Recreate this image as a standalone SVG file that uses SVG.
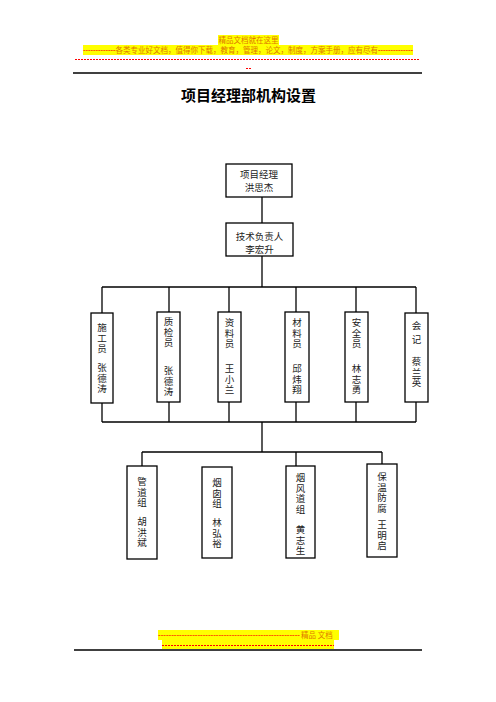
<svg xmlns="http://www.w3.org/2000/svg" width="496" height="702" viewBox="0 0 496 702">
<style>
.hd{font-family:"Liberation Serif","Noto Sans CJK SC",serif;font-size:7.5px;fill:#E07800}
.red{fill:#FF0000}
.box{fill:#fff;stroke:#000;stroke-width:1.3}
.t{font-family:"Noto Sans CJK SC",sans-serif;font-size:9.5px;fill:#222;text-anchor:middle}
.vt{font-family:"Noto Sans CJK SC",sans-serif;font-size:9.5px;fill:#222;writing-mode:vertical-rl;text-orientation:upright;letter-spacing:1px}
.ln{stroke:#000;stroke-width:1.3;fill:none}
.title{font-family:"Noto Sans CJK SC",sans-serif;font-size:15px;font-weight:bold;fill:#000;text-anchor:middle}
</style>
<rect width="496" height="702" fill="#fff"/>
<g id="header">
<rect x="218" y="35" width="61" height="10" fill="#FFFF00"/>
<text class="hd" x="248.5" y="43" text-anchor="middle">精品文档就在这里</text>
<rect x="83" y="45" width="330" height="10" fill="#FFFF00"/>
<text class="hd" x="83" y="53" textLength="330" lengthAdjust="spacingAndGlyphs"><tspan class="red">-------------</tspan>各类专业好文档，值得你下载，教育，管理，论文，制度，方案手册，应有尽有<tspan class="red">--------------</tspan></text>
<line x1="75" y1="59.5" x2="420" y2="59.5" stroke="#FF0000" stroke-width="1" stroke-dasharray="2,1"/>
<line x1="246" y1="68.5" x2="251" y2="68.5" stroke="#FF0000" stroke-width="1" stroke-dasharray="2,1"/>
<line x1="73" y1="73" x2="422" y2="73" stroke="#000" stroke-width="1.3"/>
</g>
<text class="title" x="248.5" y="101">项目经理部机构设置</text>
<g id="connectors">
<line class="ln" x1="262" y1="197" x2="262" y2="223"/>
<line class="ln" x1="262" y1="256" x2="262" y2="287"/>
<line class="ln" x1="102" y1="287" x2="416" y2="287"/>
<line class="ln" x1="102" y1="287" x2="102" y2="313"/>
<line class="ln" x1="169" y1="287" x2="169" y2="312"/>
<line class="ln" x1="229" y1="287" x2="229" y2="312"/>
<line class="ln" x1="296" y1="287" x2="296" y2="312"/>
<line class="ln" x1="356" y1="287" x2="356" y2="312"/>
<line class="ln" x1="416" y1="287" x2="416" y2="313"/>
<line class="ln" x1="102" y1="403" x2="102" y2="422"/>
<line class="ln" x1="169" y1="402" x2="169" y2="422"/>
<line class="ln" x1="229" y1="402" x2="229" y2="422"/>
<line class="ln" x1="296" y1="402" x2="296" y2="422"/>
<line class="ln" x1="356" y1="402" x2="356" y2="422"/>
<line class="ln" x1="416" y1="402" x2="416" y2="422"/>
<line class="ln" x1="102" y1="422" x2="416" y2="422"/>
<line class="ln" x1="262" y1="422" x2="262" y2="452"/>
<line class="ln" x1="142" y1="452" x2="382" y2="452"/>
<line class="ln" x1="142" y1="452" x2="142" y2="466"/>
<line class="ln" x1="296" y1="452" x2="296" y2="466"/>
<line class="ln" x1="382" y1="452" x2="382" y2="464"/>
</g>
<g id="n-pm">
<rect class="box" x="226" y="164" width="66" height="33"/>
<text class="t" x="259" y="178">项目经理</text>
<text class="t" x="259" y="191">洪思杰</text>
</g>
<g id="n-tech">
<rect class="box" x="226" y="223" width="67" height="33"/>
<text class="t" x="259.5" y="240">技术负责人</text>
<text class="t" x="259.5" y="253">李宏升</text>
</g>
<g id="n-sg">
<rect class="box" x="91" y="313" width="22" height="90"/>
<text class="vt" x="102" y="323">施工员</text>
<text class="vt" x="102" y="363">张德涛</text>
</g>
<g id="n-zj">
<rect class="box" x="157" y="312" width="23" height="90"/>
<text class="vt" x="168.5" y="317">质检员</text>
<text class="vt" x="168.5" y="366">张德涛</text>
</g>
<g id="n-zl">
<rect class="box" x="218" y="312" width="23" height="90"/>
<text class="vt" x="229.5" y="318">资料员</text>
<text class="vt" x="229.5" y="364">王小兰</text>
</g>
<g id="n-cl">
<rect class="box" x="285" y="312" width="24" height="90"/>
<text class="vt" x="297" y="318">材料员</text>
<text class="vt" x="297" y="364">邱炜翔</text>
</g>
<g id="n-aq">
<rect class="box" x="345" y="312" width="23" height="90"/>
<text class="vt" x="356.5" y="318">安全员</text>
<text class="vt" x="356.5" y="364">林志勇</text>
</g>
<g id="n-kj">
<rect class="box" x="405" y="313" width="23" height="89"/>
<text class="vt" x="416.5" y="321" style="letter-spacing:4.5px">会记</text>
<text class="vt" x="416.5" y="357">蔡兰英</text>
</g>
<g id="n-gd">
<rect class="box" x="127" y="466" width="30" height="93"/>
<text class="vt" x="142" y="477">管道组</text>
<text class="vt" x="142" y="517">胡洪斌</text>
</g>
<g id="n-yc">
<rect class="box" x="202" y="467" width="30" height="91"/>
<text class="vt" x="217" y="478">烟囱组</text>
<text class="vt" x="217" y="518">林弘裕</text>
</g>
<g id="n-yfd">
<rect class="box" x="286" y="466" width="29" height="92"/>
<text class="vt" x="300.5" y="473">烟风道组</text>
<text class="vt" x="300.5" y="525">黄志生</text>
</g>
<g id="n-bw">
<rect class="box" x="367" y="464" width="30" height="93"/>
<text class="vt" x="382" y="472">保温防腐</text>
<text class="vt" x="382" y="520">王明启</text>
</g>
<g id="footer">
<rect x="158" y="630" width="181" height="10" fill="#FFFF00"/>
<text class="hd" x="158" y="638"><tspan class="red" textLength="142" lengthAdjust="spacingAndGlyphs">------------------------------------------------------</tspan><tspan x="301">精品  文档</tspan></text>
<rect x="162" y="640" width="172" height="9" fill="#FFFF00"/>
<line x1="162" y1="645.5" x2="334" y2="645.5" stroke="#FF0000" stroke-width="1" stroke-dasharray="2,1"/>
<line x1="74" y1="650" x2="422" y2="650" stroke="#000" stroke-width="1.3"/>
</g>
</svg>
